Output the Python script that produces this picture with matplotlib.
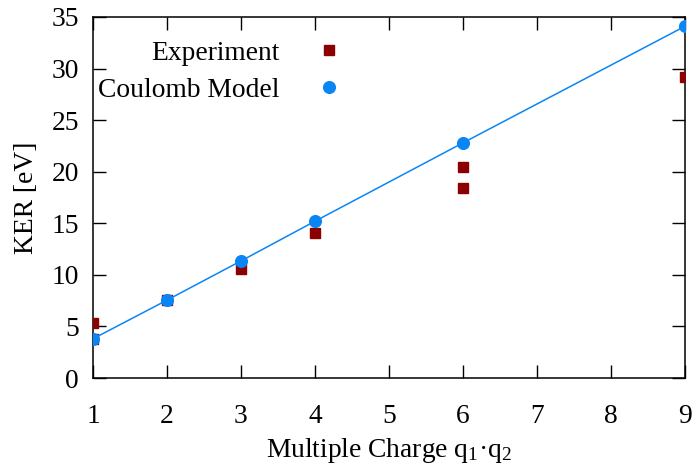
import matplotlib
matplotlib.use("Agg")
import matplotlib.pyplot as plt

# values
exp_q = [1, 1, 2, 3, 4, 6, 6, 9]
exp_ker = [5.3, 3.8, 7.55, 10.55, 14.05, 20.45, 18.45, 29.2]
coul_q = [1, 2, 3, 4, 6, 9]
coul_ker = [3.8, 7.55, 11.35, 15.2, 22.8, 34.1]

xticks = [1, 2, 3, 4, 5, 6, 7, 8, 9]
yticks = [0, 5, 10, 15, 20, 25, 30, 35]

plt.rcParams['font.family'] = ['Liberation Serif', 'DejaVu Serif']
plt.rcParams['mathtext.fontset'] = 'custom'
plt.rcParams['mathtext.rm'] = 'Liberation Serif'
plt.rcParams['mathtext.it'] = 'Liberation Serif'
plt.rcParams['font.size'] = 19.8

red = '#8b0000'
blue = '#0a85f5'

fig = plt.figure(figsize=(6.95, 4.68), dpi=100)
ax = fig.add_axes([0.1338, 0.1923, 0.8518, 0.7714])

ax.plot(exp_q, exp_ker, 's', color=red, markersize=7.2, label='Experiment', zorder=3)
ax.plot(coul_q, coul_ker, '-', color=blue, linewidth=1.1, zorder=4)
ax.plot(coul_q, coul_ker, 'o', color=blue, markersize=8.4, label='Coulomb Model', zorder=5)

ax.set_xlim(1, 9)
ax.set_ylim(0, 35)
ax.set_xticks(xticks)
ax.set_yticks(yticks)
ax.tick_params(direction='in', length=9.5, width=1.0, top=True, right=True)
ax.tick_params(axis='x', pad=19)
ax.tick_params(axis='y', pad=10)
for s in ax.spines.values():
    s.set_linewidth(1.1)

ax.set_xlabel('Multiple Charge q$_1$\u00b7q$_2$', labelpad=4.5)
ax.set_ylabel('KER [eV]', labelpad=9)

ax.legend(loc='upper right', bbox_to_anchor=(0.422, 0.935), markerfirst=False,
          frameon=False, handlelength=1.0, handletextpad=1.3, borderpad=0,
          borderaxespad=0, labelspacing=0.42)

fig.savefig('out.png', dpi=100)
